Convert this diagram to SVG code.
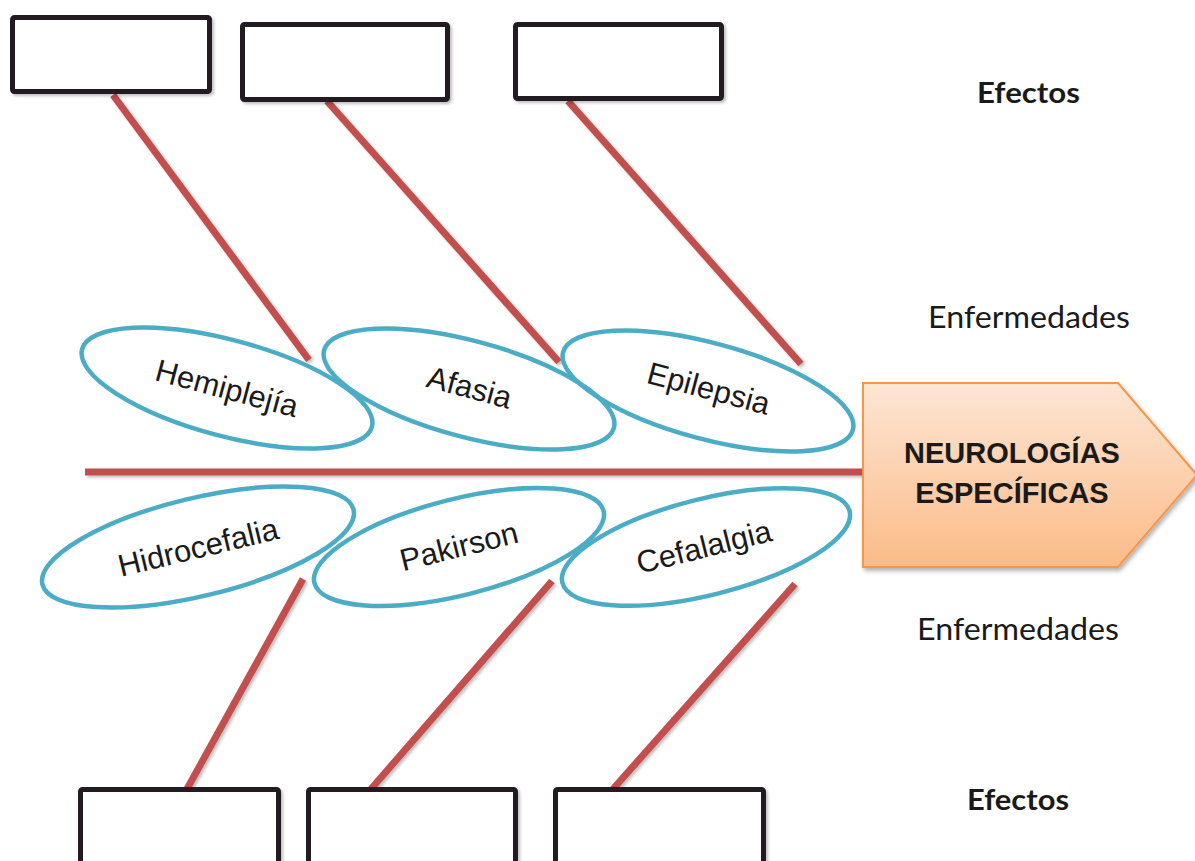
<svg xmlns="http://www.w3.org/2000/svg" width="1195" height="861" viewBox="0 0 1195 861">
<defs>
<linearGradient id="gArrow" x1="0" y1="0" x2="0" y2="1">
<stop offset="0" stop-color="#fde6d5"/>
<stop offset="1" stop-color="#fbbb88"/>
</linearGradient>
<filter id="sh" x="-10%" y="-10%" width="130%" height="130%">
<feDropShadow dx="2" dy="3" stdDeviation="2" flood-color="#000" flood-opacity="0.3"/>
</filter>
<filter id="shl" x="-10%" y="-10%" width="130%" height="130%">
<feDropShadow dx="2" dy="2" stdDeviation="1.5" flood-color="#000" flood-opacity="0.25"/>
</filter>
</defs>
<style>
.box{fill:#fff;stroke:#231f20;stroke-width:5;}
.bone{stroke:#c0504d;stroke-width:7;fill:none;}
.ell{fill:none;stroke:#4bacc6;stroke-width:4.5;}
.lbl{font-family:"Liberation Sans",Arial,sans-serif;font-size:31px;fill:#1a1a1a;text-anchor:middle;}
.side{font-family:Lato,"Open Sans",sans-serif;fill:#1a1a1a;}
.head{font-family:"Liberation Sans",Arial,sans-serif;font-weight:bold;font-size:29px;fill:#1a1a1a;text-anchor:middle;}
</style>
<rect width="1195" height="861" fill="#fff"/>

<g id="connectors" filter="url(#shl)">
<line class="bone" x1="85" y1="472" x2="864" y2="472"/>
<line class="bone" x1="113" y1="95" x2="309" y2="360"/>
<line class="bone" x1="327" y1="101" x2="559" y2="362"/>
<line class="bone" x1="568" y1="101" x2="801" y2="364"/>
<line class="bone" x1="303" y1="579" x2="187" y2="789"/>
<line class="bone" x1="552" y1="581" x2="371" y2="789"/>
<line class="bone" x1="795" y1="584" x2="613" y2="789"/>
</g>

<g id="effect-top-1" filter="url(#shl)"><rect class="box" x="12.5" y="17.5" width="197" height="74" rx="2"/></g>
<g id="effect-top-2" filter="url(#shl)"><rect class="box" x="242.5" y="24.5" width="205" height="75" rx="2"/></g>
<g id="effect-top-3" filter="url(#shl)"><rect class="box" x="515.5" y="24.5" width="206" height="74" rx="2"/></g>
<g id="effect-bottom-1" filter="url(#shl)"><rect class="box" x="80.5" y="789.5" width="198" height="100" rx="2"/></g>
<g id="effect-bottom-2" filter="url(#shl)"><rect class="box" x="308.5" y="789.5" width="207" height="100" rx="2"/></g>
<g id="effect-bottom-3" filter="url(#shl)"><rect class="box" x="555.5" y="789.5" width="208" height="100" rx="2"/></g>

<g id="hemiplejia" transform="translate(227,388) rotate(15)">
<ellipse class="ell" cx="0" cy="0" rx="150" ry="48"/>
<text class="lbl" x="0" y="11">Hemiplejía</text>
</g>
<g id="afasia" transform="translate(469,389) rotate(15)">
<ellipse class="ell" cx="0" cy="0" rx="150" ry="48"/>
<text class="lbl" x="0" y="9">Afasia</text>
</g>
<g id="epilepsia" transform="translate(708,391) rotate(15)">
<ellipse class="ell" cx="0" cy="0" rx="150" ry="48"/>
<text class="lbl" x="0" y="8">Epilepsia</text>
</g>
<g id="hidrocefalia" transform="translate(198,547) rotate(-13.5)">
<ellipse class="ell" cx="0" cy="0" rx="160" ry="49"/>
<text class="lbl" x="0" y="11">Hidrocefalia</text>
</g>
<g id="pakirson" transform="translate(459,547) rotate(-14)">
<ellipse class="ell" cx="0" cy="0" rx="149" ry="48"/>
<text class="lbl" x="0" y="10">Pakirson</text>
</g>
<g id="cefalalgia" transform="translate(706,547) rotate(-14)">
<ellipse class="ell" cx="0" cy="0" rx="148" ry="48"/>
<text class="lbl" x="-2" y="10">Cefalalgia</text>
</g>

<g id="head">
<polygon points="863,383 1118,383 1197,475 1118,567 863,567" fill="url(#gArrow)" stroke="#f79646" stroke-width="2" filter="url(#sh)"/>
<text class="head" x="1012" y="463">NEUROLOGÍAS</text>
<text class="head" x="1012" y="503">ESPECÍFICAS</text>
</g>

<g id="labels">
<text class="side" x="977" y="103" font-size="28" font-weight="bold" textLength="103" lengthAdjust="spacingAndGlyphs">Efectos</text>
<text class="side" x="928" y="328" font-size="30" textLength="202" lengthAdjust="spacingAndGlyphs">Enfermedades</text>
<text class="side" x="917" y="640" font-size="30" textLength="202" lengthAdjust="spacingAndGlyphs">Enfermedades</text>
<text class="side" x="967" y="810" font-size="28" font-weight="bold" textLength="102" lengthAdjust="spacingAndGlyphs">Efectos</text>
</g>
</svg>
